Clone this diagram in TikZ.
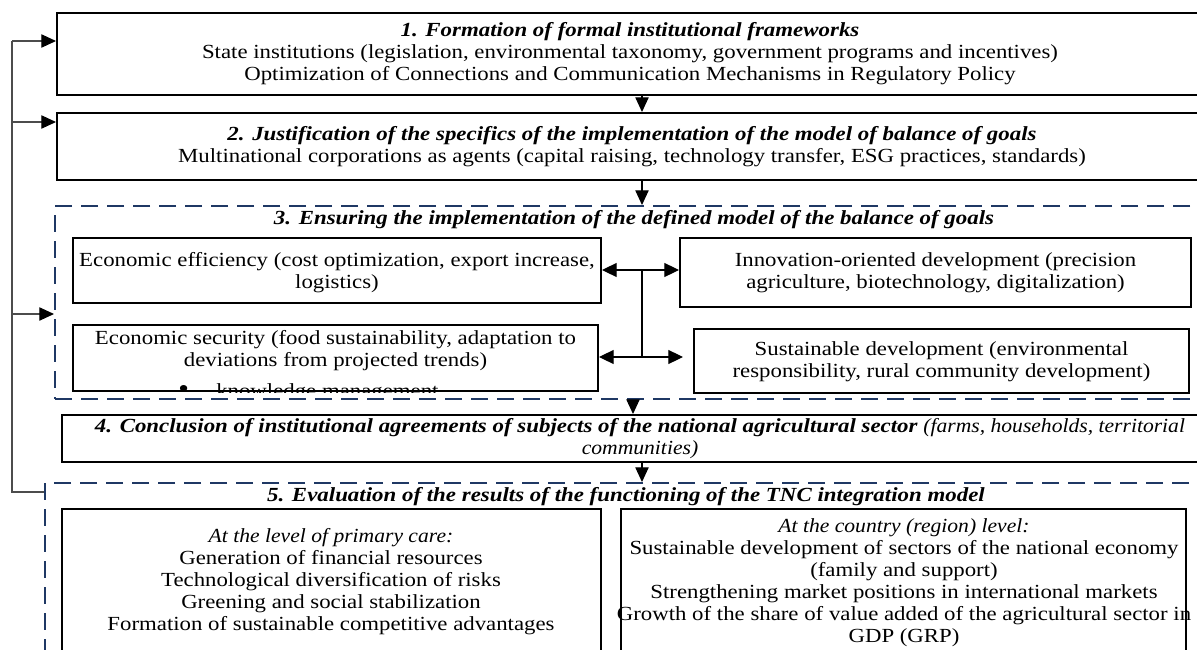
\documentclass[tikz,border=0pt]{standalone}
\usepackage{fontspec}
\setmainfont{Liberation Serif}[FakeStretch=1.14,
  ItalicFeatures={FakeStretch=1.08},
  BoldItalicFeatures={FakeStretch=1.145}]
\usetikzlibrary{arrows.meta,fit}
\definecolor{navy}{HTML}{1F3864}
\newcommand{\bfit}[1]{\textbf{\textit{#1}}}
\begin{document}
\begin{tikzpicture}[x=0.75pt,y=-0.75pt,
  sbox/.style={draw=black, line width=1.5pt, inner sep=0pt},
  dbox/.style={draw=navy, line width=1.5pt, dash pattern=on 12.5pt off 7pt, inner sep=0pt},
  txt/.style={font=\fontsize{15}{16.5}\selectfont, align=center, inner sep=0pt},
  arr/.style={-{Triangle[length=11pt,width=10pt]}, line width=0.8pt, black},
  darr/.style={{Triangle[length=11pt,width=10.5pt]}-{Triangle[length=11pt,width=10.5pt]}, line width=0.8pt, black},
  conn/.style={line width=0.8pt, black},
  gline/.style={line width=0.8pt, black!70},
  garr/.style={-{Triangle[length=11pt,width=10pt,color=black]}, line width=0.8pt, black!70}]
\clip (0,0) rectangle (1197,650);
\fill[white] (0,0) rectangle (1197,650);

% frames
\node[sbox, fit={(57,13) (1210,95)}] (b1) {};
\node[sbox, fit={(57,113) (1210,180)}] (b2) {};
\node[dbox, fit={(55,206) (1215,399)}] (d3) {};
\node[sbox, fit={(73,238) (601,303)}] (ee) {};
\node[sbox, fit={(680,238) (1191,307)}] (io) {};
\node[sbox, fit={(73,325) (598,391)}] (es) {};
\node[sbox, fit={(694,329) (1189,393)}] (sd) {};
\node[sbox, fit={(62,415) (1215,462)}] (b4) {};
\node[dbox, fit={(45,483) (1215,665)}] (d5) {};
\node[sbox, fit={(62,509) (601,665)}] (lv) {};
\node[sbox, fit={(621,509) (1186,665)}] (cl) {};

% texts
\node[txt] (t1) at (630,54) {\bfit{1. Formation of formal institutional frameworks}\\
  State institutions (legislation, environmental taxonomy, government programs and incentives)\\
  Optimization of Connections and Communication Mechanisms in Regulatory Policy};
\node[txt] (t2) at (632,146.5) {\bfit{2. Justification of the specifics of the implementation of the model of balance of goals}\\
  Multinational corporations as agents (capital raising, technology transfer, ESG practices, standards)};
\node[txt] (t3) at (634,220) {\bfit{3. Ensuring the implementation of the defined model of the balance of goals}};
\node[txt] (tee) at (337,273) {Economic efficiency (cost optimization, export increase,\\ logistics)};
\node[txt] (tio) at (935.5,272.5) {Innovation-oriented development (precision\\ agriculture, biotechnology, digitalization)};
\node[txt] (tes) at (335.5,351) {Economic security (food sustainability, adaptation to\\ deviations from projected trends)};
\node[txt] (tsd) at (941.5,361.5) {Sustainable development (environmental\\ responsibility, rural community development)};
\begin{scope}
  \clip (es.north west) rectangle (es.south east);
  \node[txt, anchor=base west] (kb) at (178,397) {\fontsize{20}{20}\selectfont •};
  \node[txt, anchor=base west] (km) at (216,397) {knowledge management};
\end{scope}
\node[txt] (t4) at (640,438.5) {\bfit{4. Conclusion of institutional agreements of subjects of the national agricultural sector} \textit{(farms, households, territorial}\\
  \textit{communities)}};
\node[txt] (t5) at (626,497) {\bfit{5. Evaluation of the results of the functioning of the TNC integration model}};
\node[txt] (tlv) at (331,582) {\textit{At the level of primary care:}\\
  Generation of financial resources\\
  Technological diversification of risks\\
  Greening and social stabilization\\
  Formation of sustainable competitive advantages};
\node[txt] (tcl) at (904,582.5) {\textit{At the country (region) level:}\\
  Sustainable development of sectors of the national economy\\
  (family and support)\\
  Strengthening market positions in international markets\\
  Growth of the share of value added of the agricultural sector in\\
  GDP (GRP)};

% main flow
\coordinate (xa) at (642,0);
\coordinate (xb) at (633,0);
\draw[arr] (xa |- b1.south) -- (xa |- b2.north);
\draw[arr] (xa |- b2.south) -- (xa |- d3.north);
\draw[arr] (xb |- d3.south) -- (xb |- b4.north);
\draw[arr] (xa |- b4.south) -- (xa |- d5.north);

% links between the goals
\coordinate (ya) at (0,270);
\coordinate (yb) at (0,357);
\coordinate (se) at (683,357);
\draw[darr] (ee.east |- ya) -- (io.west |- ya);
\draw[darr] (es.east |- yb) -- (se);
\draw[conn] (xa |- ya) -- (xa |- yb);

% feedback loop
\coordinate (fx) at (12,0);
\coordinate (fb) at (0,492);
\coordinate (y1) at (0,41);
\coordinate (y2) at (0,122);
\coordinate (y3) at (0,314);
\draw[gline] (d5.west |- fb) -- (fx |- fb) -- (fx |- y1);
\draw[garr] (fx |- y1) -- (b1.west |- y1);
\draw[garr] (fx |- y2) -- (b2.west |- y2);
\draw[garr] (fx |- y3) -- (d3.west |- y3);
\end{tikzpicture}
\end{document}
